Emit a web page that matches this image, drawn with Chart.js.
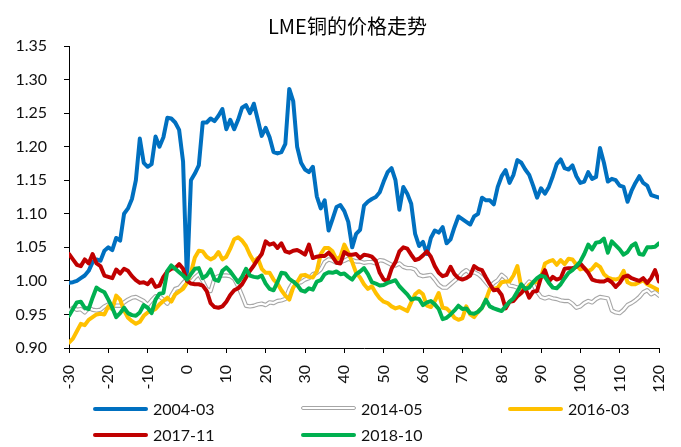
<!DOCTYPE html>
<html>
<head>
<meta charset="utf-8">
<script src="https://cdn.jsdelivr.net/npm/chart.js@4.4.1/dist/chart.umd.min.js"></script>
<style>
    body { margin: 0; background: #fff; }
    #wrap { position: relative; width: 681px; height: 447px; }
    #title {
        position: absolute; left: 268px; top: 15px; white-space: nowrap;
        font: 20px "Noto Sans CJK SC", sans-serif; line-height: 22px; color: #000;
    }
    .item { position: absolute; height: 20px; font: 16px Lato, sans-serif; line-height: 20px; color: #111; }
    .item .ln { position: absolute; left: 0; top: 8px; width: 55px; height: 4px; border-radius: 2px; }
    .item .tx { position: absolute; left: 60px; top: 0; white-space: nowrap; }
    .item .ln.dbl { height: 2px; background: #fff; border: 1px solid #a6a6a6; top: 7px; width: 53px; }
</style>
</head>
<body>
<div id="wrap">
    <canvas id="copperChart" width="681" height="447"></canvas>
    <div id="title">LME铜的价格走势</div>
    <div class="item" style="left:93px;top:399px"><span class="ln" style="background:#0070c0"></span><span class="tx">2004-03</span></div>
    <div class="item" style="left:301px;top:399px"><span class="ln dbl"></span><span class="tx">2014-05</span></div>
    <div class="item" style="left:508px;top:399px"><span class="ln" style="background:#ffc000"></span><span class="tx">2016-03</span></div>
    <div class="item" style="left:93px;top:425px"><span class="ln" style="background:#c00000"></span><span class="tx">2017-11</span></div>
    <div class="item" style="left:301px;top:425px"><span class="ln" style="background:#00b050"></span><span class="tx">2018-10</span></div>
</div>
<script>
/* ==========================================
   LME铜的价格走势
   ========================================== */

// 交易日 -30 ... 120
const days = Array.from({ length: 151 }, (_, i) => i - 30);

const xTicks = [-30, -20, -10, 0, 10, 20, 30, 40, 50, 60, 70, 80, 90, 100, 110, 120];
const yTicks = [0.90, 0.95, 1.00, 1.05, 1.10, 1.15, 1.20, 1.25, 1.30, 1.35];

const s200403 = [
    0.997, 0.998, 1.000, 1.004, 1.008, 1.015, 1.028, 1.032, 1.030, 1.045,
    1.050, 1.046, 1.064, 1.060, 1.100, 1.108, 1.122, 1.150, 1.212, 1.176,
    1.170, 1.174, 1.215, 1.200, 1.214, 1.243, 1.242, 1.236, 1.225, 1.178,
    1.000, 1.150, 1.160, 1.172, 1.236, 1.236, 1.242, 1.238, 1.246, 1.256,
    1.226, 1.240, 1.226, 1.240, 1.258, 1.262, 1.250, 1.264, 1.240, 1.216,
    1.228, 1.214, 1.192, 1.190, 1.192, 1.204, 1.286, 1.268, 1.200, 1.176,
    1.166, 1.162, 1.170, 1.126, 1.108, 1.120, 1.075, 1.092, 1.110, 1.113,
    1.104, 1.088, 1.050, 1.070, 1.076, 1.112, 1.118, 1.122, 1.125, 1.132,
    1.148, 1.162, 1.168, 1.150, 1.106, 1.140, 1.130, 1.115, 1.070, 1.052,
    1.058, 1.040, 1.064, 1.075, 1.072, 1.080, 1.056, 1.062, 1.080, 1.096,
    1.092, 1.088, 1.084, 1.096, 1.100, 1.124, 1.120, 1.120, 1.114, 1.140,
    1.156, 1.165, 1.146, 1.158, 1.180, 1.176, 1.166, 1.158, 1.142, 1.124,
    1.138, 1.130, 1.140, 1.156, 1.174, 1.181, 1.168, 1.166, 1.172, 1.156,
    1.146, 1.148, 1.162, 1.152, 1.155, 1.198, 1.176, 1.148, 1.152, 1.150,
    1.142, 1.140, 1.118, 1.134, 1.146, 1.156, 1.146, 1.142, 1.128, 1.126,
    1.124
];

const s201405 = [
    0.955, 0.960, 0.957, 0.958, 0.953, 0.960, 0.957, 0.956, 0.957, 0.962,
    0.965, 0.964, 0.963, 0.963, 0.968, 0.972, 0.975, 0.976, 0.973, 0.970,
    0.964, 0.971, 0.977, 0.977, 0.972, 0.966, 0.978, 0.988, 0.990, 0.997,
    1.003, 0.998, 1.005, 1.010, 1.000, 0.988, 0.985, 1.004, 1.007, 1.008,
    1.008, 1.007, 1.003, 0.992, 0.978, 0.963, 0.962, 0.963, 0.965, 0.966,
    0.964, 0.968, 0.967, 0.970, 0.971, 0.973, 0.988, 0.998, 0.997, 0.998,
    1.002, 1.004, 1.010, 1.012, 1.017, 1.028, 1.032, 1.030, 1.027, 1.028,
    1.030, 1.033, 1.031, 1.029, 1.029, 1.027, 1.028, 1.028, 1.026, 1.031,
    1.030, 1.027, 1.024, 1.023, 1.026, 1.021, 1.019, 1.019, 1.017, 1.009,
    1.007, 1.008, 1.009, 1.002, 0.994, 0.990, 0.990, 0.995, 1.000, 1.005,
    1.012, 1.016, 1.011, 1.013, 1.010, 1.005, 0.998, 0.991, 0.997, 1.001,
    1.009, 1.004, 0.993, 0.992, 0.990, 0.988, 0.992, 0.999, 0.995, 0.984,
    0.976, 0.974, 0.976, 0.974, 0.973, 0.971, 0.970, 0.970, 0.966, 0.960,
    0.962, 0.967, 0.970, 0.968, 0.973, 0.976, 0.975, 0.974, 0.956, 0.953,
    0.952, 0.957, 0.964, 0.967, 0.971, 0.976, 0.983, 0.986, 0.980, 0.983,
    0.978
];

const s201603 = [
    0.908, 0.914, 0.925, 0.936, 0.934, 0.942, 0.946, 0.950, 0.951, 0.950,
    0.962, 0.958, 0.978, 0.972, 0.956, 0.945, 0.940, 0.936, 0.939, 0.948,
    0.953, 0.955, 0.958, 0.965, 0.970, 0.975, 0.969, 0.980, 0.984, 0.988,
    0.997, 1.012, 1.035, 1.045, 1.044, 1.036, 1.032, 1.035, 1.043, 1.032,
    1.036, 1.048, 1.062, 1.065, 1.060, 1.052, 1.039, 1.029, 1.034, 1.018,
    1.012, 1.012, 1.002, 0.996, 0.986, 0.978, 0.972, 0.990, 0.998, 1.008,
    1.009, 1.006, 1.005, 1.014, 1.040, 1.049, 1.049, 1.044, 1.032, 1.036,
    1.054, 1.042, 1.028, 1.012, 1.005, 0.995, 0.988, 0.992, 0.982, 0.974,
    0.969, 0.967, 0.962, 0.959, 0.961, 0.958, 0.955, 0.968, 0.980, 0.985,
    0.980, 0.963, 0.961, 0.970, 0.982, 0.960, 0.959, 0.953, 0.945, 0.942,
    0.944, 0.962, 0.950, 0.946, 0.954, 0.960, 0.972, 0.988, 0.988, 0.990,
    0.998, 0.999, 0.999, 1.008, 1.022, 0.990, 0.986, 0.994, 0.998, 0.998,
    1.005, 1.026, 1.029, 1.031, 1.024, 1.031, 1.025, 1.033, 1.032, 1.024,
    1.017, 1.019, 1.014, 1.018, 1.025, 1.021, 1.010, 1.005, 1.003, 1.002,
    1.004, 1.015, 0.998, 0.995, 0.995, 0.998, 1.001, 0.995, 0.992, 0.989,
    0.986
];

const s201711 = [
    1.040, 1.032, 1.024, 1.022, 1.032, 1.026, 1.040, 1.026, 1.022, 1.008,
    1.006, 1.004, 1.017, 1.011, 1.018, 1.015, 1.007, 1.001, 0.997, 0.998,
    0.995, 1.002, 0.991, 0.993, 1.006, 1.014, 1.018, 1.019, 1.025, 1.018,
    1.000, 0.996, 0.995, 0.995, 0.993, 0.985, 0.967, 0.961, 0.960, 0.962,
    0.969, 0.979, 0.986, 0.989, 0.995, 1.005, 1.015, 1.023, 1.032, 1.040,
    1.059, 1.054, 1.056, 1.049, 1.056, 1.044, 1.042, 1.045, 1.046, 1.043,
    1.039, 1.054, 1.034, 1.036, 1.037, 1.037, 1.042, 1.036, 1.027, 1.026,
    1.043, 1.039, 1.039, 1.040, 1.034, 1.039, 1.038, 1.036, 1.030, 1.012,
    1.002, 1.000, 1.018, 1.028, 1.044, 1.050, 1.048, 1.039, 1.031, 1.033,
    1.038, 1.044, 1.036, 1.022, 1.012, 1.007, 1.009, 1.021, 1.010, 1.004,
    1.002, 1.004, 1.008, 1.022, 1.018, 1.016, 1.005, 0.995, 0.986, 0.987,
    0.979, 0.959, 0.969, 0.970, 0.977, 0.982, 0.989, 0.975, 0.984, 0.985,
    1.005, 1.016, 0.999, 1.006, 1.002, 1.004, 1.018, 1.019, 1.019, 1.021,
    1.026, 1.019, 1.012, 1.002, 1.000, 0.999, 0.999, 1.002, 0.998, 0.991,
    0.997, 1.006, 1.008, 1.004, 1.002, 1.000, 1.004, 0.997, 1.004, 1.016,
    0.999
];

const s201810 = [
    0.948, 0.958, 0.968, 0.969, 0.960, 0.958, 0.975, 0.990, 0.986, 0.983,
    0.972, 0.960, 0.946, 0.952, 0.960, 0.952, 0.949, 0.948, 0.953, 0.964,
    0.960, 0.952, 0.972, 0.981, 0.982, 1.015, 1.023, 1.018, 1.013, 1.008,
    1.002, 1.010, 1.018, 1.019, 1.004, 1.008, 1.017, 1.002, 1.000, 1.015,
    1.020, 1.014, 1.006, 0.998, 1.006, 1.018, 1.008, 1.006, 1.005, 1.008,
    0.996, 0.988, 0.986, 0.998, 1.012, 1.011, 1.003, 0.999, 0.994, 0.986,
    0.984, 0.989, 0.987, 0.999, 1.001, 1.010, 1.013, 1.012, 1.014, 1.010,
    1.011, 1.006, 1.002, 1.010, 1.014, 1.019, 1.010, 0.998, 0.996, 0.993,
    0.994, 0.997, 0.999, 1.001, 0.992, 0.986, 0.980, 0.972, 0.974, 0.973,
    0.964, 0.968, 0.970, 0.965, 0.958, 0.943, 0.945, 0.950, 0.956, 0.963,
    0.958, 0.959, 0.952, 0.951, 0.954, 0.960, 0.972, 0.962, 0.959, 0.957,
    0.955, 0.962, 0.969, 0.974, 0.984, 0.995, 0.988, 0.990, 0.998, 1.004,
    1.008, 1.006, 0.997, 0.990, 0.989, 0.995, 1.004, 1.012, 1.016, 1.022,
    1.029, 1.040, 1.054, 1.047, 1.057, 1.058, 1.063, 1.042, 1.059, 1.053,
    1.047, 1.039, 1.043, 1.052, 1.056, 1.040, 1.039, 1.050, 1.050, 1.051,
    1.056
];

const tickFont = { family: "Lato", size: 16 };

function lineSet(label, data, color, width, order) {
    return {
        label,
        data,
        borderColor: color,
        borderWidth: width,
        pointRadius: 0,
        tension: 0,
        fill: false,
        borderJoinStyle: "round",
        borderCapStyle: "round",
        order
    };
}

new Chart(document.getElementById("copperChart"), {
    type: "line",
    data: {
        labels: days,
        datasets: [
            lineSet("2004-03", s200403, "#0070c0", 4, 6),
            lineSet("2014-05", s201405, "#a6a6a6", 4.4, 5),
            lineSet("2014-05 inner", s201405, "#ffffff", 2.2, 4),
            lineSet("2016-03", s201603, "#ffc000", 4, 3),
            lineSet("2017-11", s201711, "#c00000", 4, 2),
            lineSet("2018-10", s201810, "#00b050", 4, 1)
        ]
    },
    options: {
        responsive: false,
        animation: false,
        devicePixelRatio: 1,
        layout: {
            padding: { top: 46, right: 22, bottom: 39, left: 0 }
        },
        plugins: {
            legend: { display: false },
            title: { display: false },
            tooltip: { enabled: false }
        },
        scales: {
            x: {
                type: "linear",
                min: -30,
                max: 120,
                afterBuildTicks: scale => {
                    scale.ticks = xTicks.map(v => ({ value: v }));
                },
                afterFit: scale => {
                    scale.height = 60;
                    scale.paddingLeft = 0;
                    scale.paddingRight = 0;
                },
                ticks: {
                    color: "#111",
                    font: tickFont,
                    padding: 12,
                    minRotation: 90,
                    maxRotation: 90,
                    autoSkip: false
                },
                grid: {
                    drawOnChartArea: false,
                    drawTicks: true,
                    tickLength: 5,
                    color: "#000"
                },
                border: { display: true, color: "#000", width: 1 }
            },
            y: {
                min: 0.9,
                max: 1.35,
                afterBuildTicks: scale => {
                    scale.ticks = yTicks.map(v => ({ value: v }));
                },
                afterFit: scale => {
                    scale.width = 69;
                },
                ticks: {
                    color: "#111",
                    font: tickFont,
                    padding: 17,
                    callback: value => value.toFixed(2)
                },
                grid: {
                    drawOnChartArea: false,
                    drawTicks: true,
                    tickLength: 5,
                    color: "#000"
                },
                border: { display: true, color: "#000", width: 1 }
            }
        }
    }
});
</script>
</body>
</html>
